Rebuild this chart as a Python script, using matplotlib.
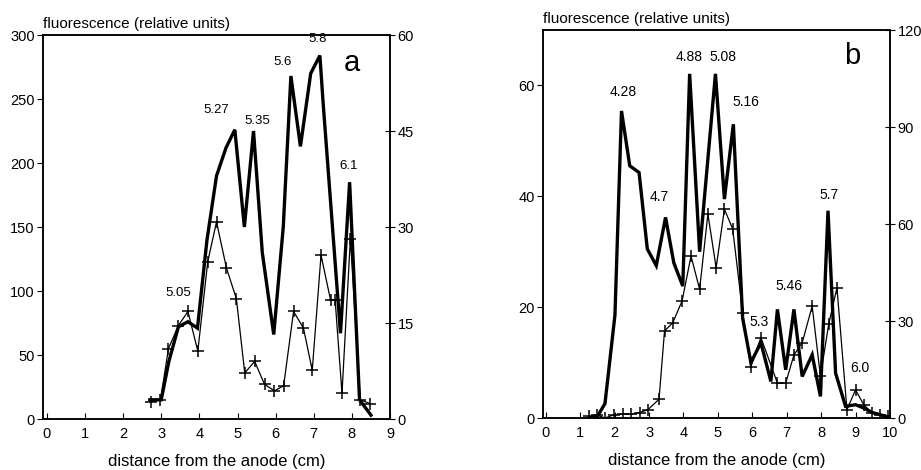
import matplotlib
matplotlib.use('Agg')
import matplotlib.pyplot as plt

plt.rcParams['font.family'] = ['Liberation Sans', 'DejaVu Sans']

# panel a: thick trace (left axis) and "+" trace (right axis)
a_thick_x = [2.7, 3.0, 3.2, 3.45, 3.7, 3.95, 4.2, 4.45, 4.7, 4.93, 5.18, 5.42, 5.65, 5.95,
             6.2, 6.4, 6.65, 6.92, 7.16, 7.25, 7.7, 7.94, 8.2, 8.5]
a_thick_y = [15, 15, 45, 72, 76, 71, 140, 190, 212, 226, 150, 225, 130, 66,
             150, 268, 213, 270, 284, 245, 67, 185, 15, 3]
a_plus_x = [2.72, 2.98, 3.19, 3.45, 3.70, 3.96, 4.22, 4.45, 4.71, 4.97, 5.19, 5.45, 5.71,
            5.97, 6.21, 6.47, 6.73, 6.96, 7.19, 7.44, 7.56, 7.74, 7.96, 8.22, 8.48]
a_plus_y = [2.7, 3.0, 11.0, 14.6, 16.8, 10.6, 24.6, 30.8, 23.6, 18.8, 7.2, 9.0, 5.4,
            4.4, 5.2, 16.8, 14.2, 7.6, 25.6, 18.6, 18.6, 4.0, 28.2, 3.0, 2.4]
a_labels = ['5.05', '5.27', '5.35', '5.6', '5.8', '6.1']
a_label_x = [3.45, 4.45, 5.53, 6.18, 7.09, 7.91]
a_label_y = [94, 237, 228, 274, 292, 193]

# panel b
b_thick_x = [1.25, 1.5, 1.72, 2.01, 2.2, 2.44, 2.71, 2.95, 3.21, 3.48, 3.72, 3.98, 4.18,
             4.47, 4.93, 5.19, 5.45, 5.72, 5.96, 6.25, 6.54, 6.73, 6.97, 7.21, 7.45,
             7.74, 7.98, 8.2, 8.42, 8.71, 9.0, 9.24, 9.48, 9.77, 10.0]
b_thick_y = [0, 0.3, 2.6, 18.6, 55.4, 45.5, 44.3, 30.5, 27.5, 36.2, 28, 23.8, 62.1,
             30, 62.1, 39.5, 53, 18, 10, 13.6, 6.6, 19.6, 8.7, 19.6, 7.5,
             11.4, 3.9, 37.4, 8.1, 2.1, 2.4, 1.8, 1.0, 0.5, 0.1]
b_plus_x = [1.25, 1.48, 1.72, 1.98, 2.25, 2.49, 2.73, 2.97, 3.29, 3.45, 3.69, 3.96, 4.22,
            4.47, 4.71, 4.95, 5.19, 5.43, 5.72, 5.96, 6.25, 6.73, 6.97, 7.21, 7.45,
            7.74, 7.98, 8.22, 8.46, 8.75, 9.0, 9.24, 9.48, 9.72, 9.94]
b_plus_y = [0.5, 1.0, 0.0, 1.0, 1.2, 1.2, 1.7, 2.6, 5.8, 26.9, 29.5, 36.2, 50.1,
            39.8, 63.1, 46.5, 64.6, 58.5, 32.6, 15.9, 24.9, 10.8, 10.8, 19.5, 23.3,
            34.6, 12.9, 29.0, 40.3, 2.6, 8.7, 4.1, 1.5, 1.0, 0.5]
b_labels = ['4.28', '4.7', '4.88', '5.08', '5.16', '5.3', '5.46', '5.7', '6.0']
b_label_x = [2.25, 3.31, 4.16, 5.14, 5.80, 6.2, 7.07, 8.22, 9.14]
b_label_y = [57.6, 38.7, 63.9, 63.9, 55.7, 16.0, 22.6, 38.9, 7.8]

fig = plt.figure(figsize=(9.21, 4.70), dpi=100)


def panel(rect, tx, ty, px, py, xlim, ylim, ylim2, yt, yt2, xt,
          labels, lx, ly, letter, letter_xy, fs, afs):
    ax = fig.add_axes(rect)
    ax2 = ax.twinx()
    ax.plot(tx, ty, color='black', lw=2.4, solid_joinstyle='miter')
    ax2.plot(px, py, color='black', lw=0.9, marker='+', ms=9, mew=1.1)
    ax.set_xlim(*xlim)
    ax.set_ylim(*ylim)
    ax2.set_ylim(*ylim2)
    ax.set_xticks(xt)
    ax.set_yticks(yt)
    ax2.set_yticks(yt2)
    ax.tick_params(axis='x', direction='in', length=4, labelsize=fs, pad=6)
    ax.tick_params(axis='y', direction='out', length=4, labelsize=fs, pad=2)
    ax2.tick_params(axis='y', direction='inout', length=7, labelsize=fs, pad=2)
    for s in ax.spines.values():
        s.set_linewidth(1.1)
    for s in ax2.spines.values():
        s.set_linewidth(1.1)
    for t, x, y in zip(labels, lx, ly):
        ax.text(x, y, t, ha='center', va='bottom', fontsize=afs)
    ax.text(letter_xy[0], letter_xy[1], letter, ha='center', va='center',
            fontsize=21, fontweight='light')
    ax.text(0, 1.01, 'fluorescence (relative units)', transform=ax.transAxes,
            ha='left', va='bottom', fontsize=11)
    ax.set_xlabel('distance from the anode (cm)', fontsize=12, labelpad=9)
    return ax


panel([0.0467, 0.1085, 0.3768, 0.817], a_thick_x, a_thick_y, a_plus_x, a_plus_y,
      (-0.1, 9.0), (0, 300), (0, 60), [0, 50, 100, 150, 200, 250, 300],
      [0, 15, 30, 45, 60], list(range(10)),
      a_labels, a_label_x, a_label_y, 'a', (8.0, 278), 10.5, 9.5)

panel([0.5896, 0.1106, 0.3767, 0.8255], b_thick_x, b_thick_y, b_plus_x, b_plus_y,
      (-0.08, 10.0), (0, 70), (0, 120), [0, 20, 40, 60],
      [0, 30, 60, 90, 120], list(range(11)),
      b_labels, b_label_x, b_label_y, 'b', (8.9, 65.4), 10.5, 10)

fig.savefig('out.png', dpi=100)
